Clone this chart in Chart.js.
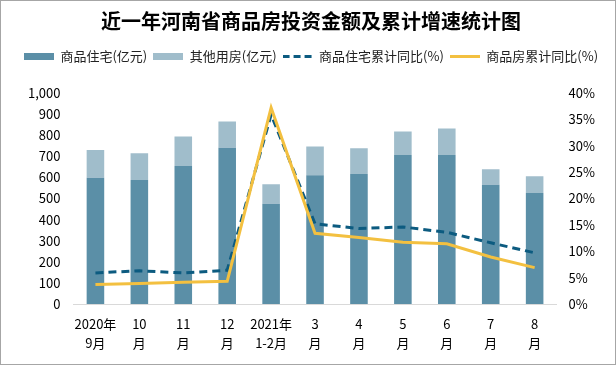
<!DOCTYPE html>
<html>
<head>
<meta charset="utf-8">
<script src="https://cdn.jsdelivr.net/npm/chart.js@4.4.0/dist/chart.umd.min.js"></script>
<style>
    body{margin:0;background:#fff;}
    .box{width:614px;height:363px;border:1px solid #a6a6a6;}
</style>
</head>
<body>
<div class="box"><canvas id="chart" width="614" height="363"></canvas></div>
<script>
//__________ 資料 __________//
var months = [["2020年","9月"],["10","月"],["11","月"],["12","月"],["2021年","1-2月"],["3","月"],["4","月"],["5","月"],["6","月"],["7","月"],["8","月"]];
var housing = [598, 588, 654, 740, 475, 610, 616, 706, 706, 565, 526];   // 商品住宅(亿元)
var other = [132, 127, 140, 125, 92, 137, 122, 111, 126, 74, 79];        // 其他用房(亿元)
var housingGrowth = [5.9, 6.3, 5.9, 6.4, 35.9, 15.2, 14.3, 14.6, 13.6, 11.6, 9.7]; // %
var totalGrowth = [3.7, 3.9, 4.1, 4.3, 37.2, 13.4, 12.6, 11.7, 11.4, 8.9, 6.9];    // %

var font = "'Noto Sans CJK SC', 'Noto Sans', sans-serif";
var darkBlue = "#5b8fa7";
var lightBlue = "#a0bdcb";
var dashBlue = "#0c5b80";
var yellow = "#f3c040";

//__________ 圖例小圖 __________//
function swatch(color, h, dash){
    var c = document.createElement("canvas");
    c.width = 30;
    c.height = h;
    var g = c.getContext("2d");
    g.fillStyle = color;
    if(dash){
        for(var x=0; x<30; x+=11){
            g.fillRect(x, 0, 7, h);
        }
    }else{
        g.fillRect(0, 0, 30, h);
    }
    return c;
}

// 圖例下方留空
var legendGap = {
    id: "legendGap",
    beforeInit: function(chart){
        var fit = chart.legend.fit;
        chart.legend.fit = function(){
            fit.call(this);
            this.height += 20;
        };
    }
};

var ctx = document.getElementById("chart").getContext("2d");
var myChart = new Chart(ctx, {
    type: "bar",
    data: {
        labels: months,
        datasets: [
            {
                label: "商品住宅(亿元)",
                data: housing,
                backgroundColor: darkBlue,
                stack: "s",
                yAxisID: "y",
                order: 2,
                pointStyle: swatch(darkBlue, 7),
                barPercentage: 0.4,
                categoryPercentage: 1
            },
            {
                label: "其他用房(亿元)",
                data: other,
                backgroundColor: lightBlue,
                stack: "s",
                yAxisID: "y",
                order: 2,
                pointStyle: swatch(lightBlue, 7),
                barPercentage: 0.4,
                categoryPercentage: 1
            },
            {
                type: "line",
                label: "商品住宅累计同比(%)",
                data: housingGrowth,
                borderColor: dashBlue,
                backgroundColor: dashBlue,
                borderWidth: 3,
                borderDash: [8, 5],
                pointRadius: 0,
                tension: 0,
                yAxisID: "y1",
                order: 1,
                pointStyle: swatch(dashBlue, 3, true)
            },
            {
                type: "line",
                label: "商品房累计同比(%)",
                data: totalGrowth,
                borderColor: yellow,
                backgroundColor: yellow,
                borderWidth: 3,
                pointRadius: 0,
                tension: 0,
                yAxisID: "y1",
                order: 0,
                pointStyle: swatch(yellow, 3)
            }
        ]
    },
    plugins: [legendGap],
    options: {
        responsive: false,
        animation: false,
        layout: {padding: {left: 14, right: 8, top: 0, bottom: 1}},
        plugins: {
            title: {
                display: true,
                text: "近一年河南省商品房投资金额及累计增速统计图",
                color: "#000",
                font: {family: font, size: 20, weight: "bold"},
                padding: {top: 8, bottom: 11}
            },
            legend: {
                position: "top",
                labels: {
                    sort: function(a, b){ return a.datasetIndex - b.datasetIndex; },
                    usePointStyle: true,
                    pointStyleWidth: 30,
                    boxHeight: 8,
                    color: "#222",
                    font: {family: font, size: 13},
                    padding: 6
                }
            },
            tooltip: {enabled: false}
        },
        scales: {
            x: {
                stacked: true,
                grid: {display: false, drawTicks: false},
                border: {color: "#d9d9d9"},
                ticks: {
                    color: "#000",
                    font: {family: font, size: 13, lineHeight: 1.5},
                    maxRotation: 0,
                    autoSkip: false,
                    padding: 10
                }
            },
            y: {
                stacked: true,
                min: 0,
                max: 1000,
                position: "left",
                grid: {display: false, drawTicks: false},
                border: {display: false},
                ticks: {
                    stepSize: 100,
                    color: "#000",
                    font: {family: font, size: 13},
                    padding: 13
                }
            },
            y1: {
                min: 0,
                max: 40,
                position: "right",
                grid: {display: false, drawTicks: false},
                border: {display: false},
                ticks: {
                    stepSize: 5,
                    color: "#000",
                    font: {family: font, size: 13},
                    padding: 12,
                    callback: function(v){ return v + "%"; }
                }
            }
        }
    }
});
</script>
</body>
</html>
